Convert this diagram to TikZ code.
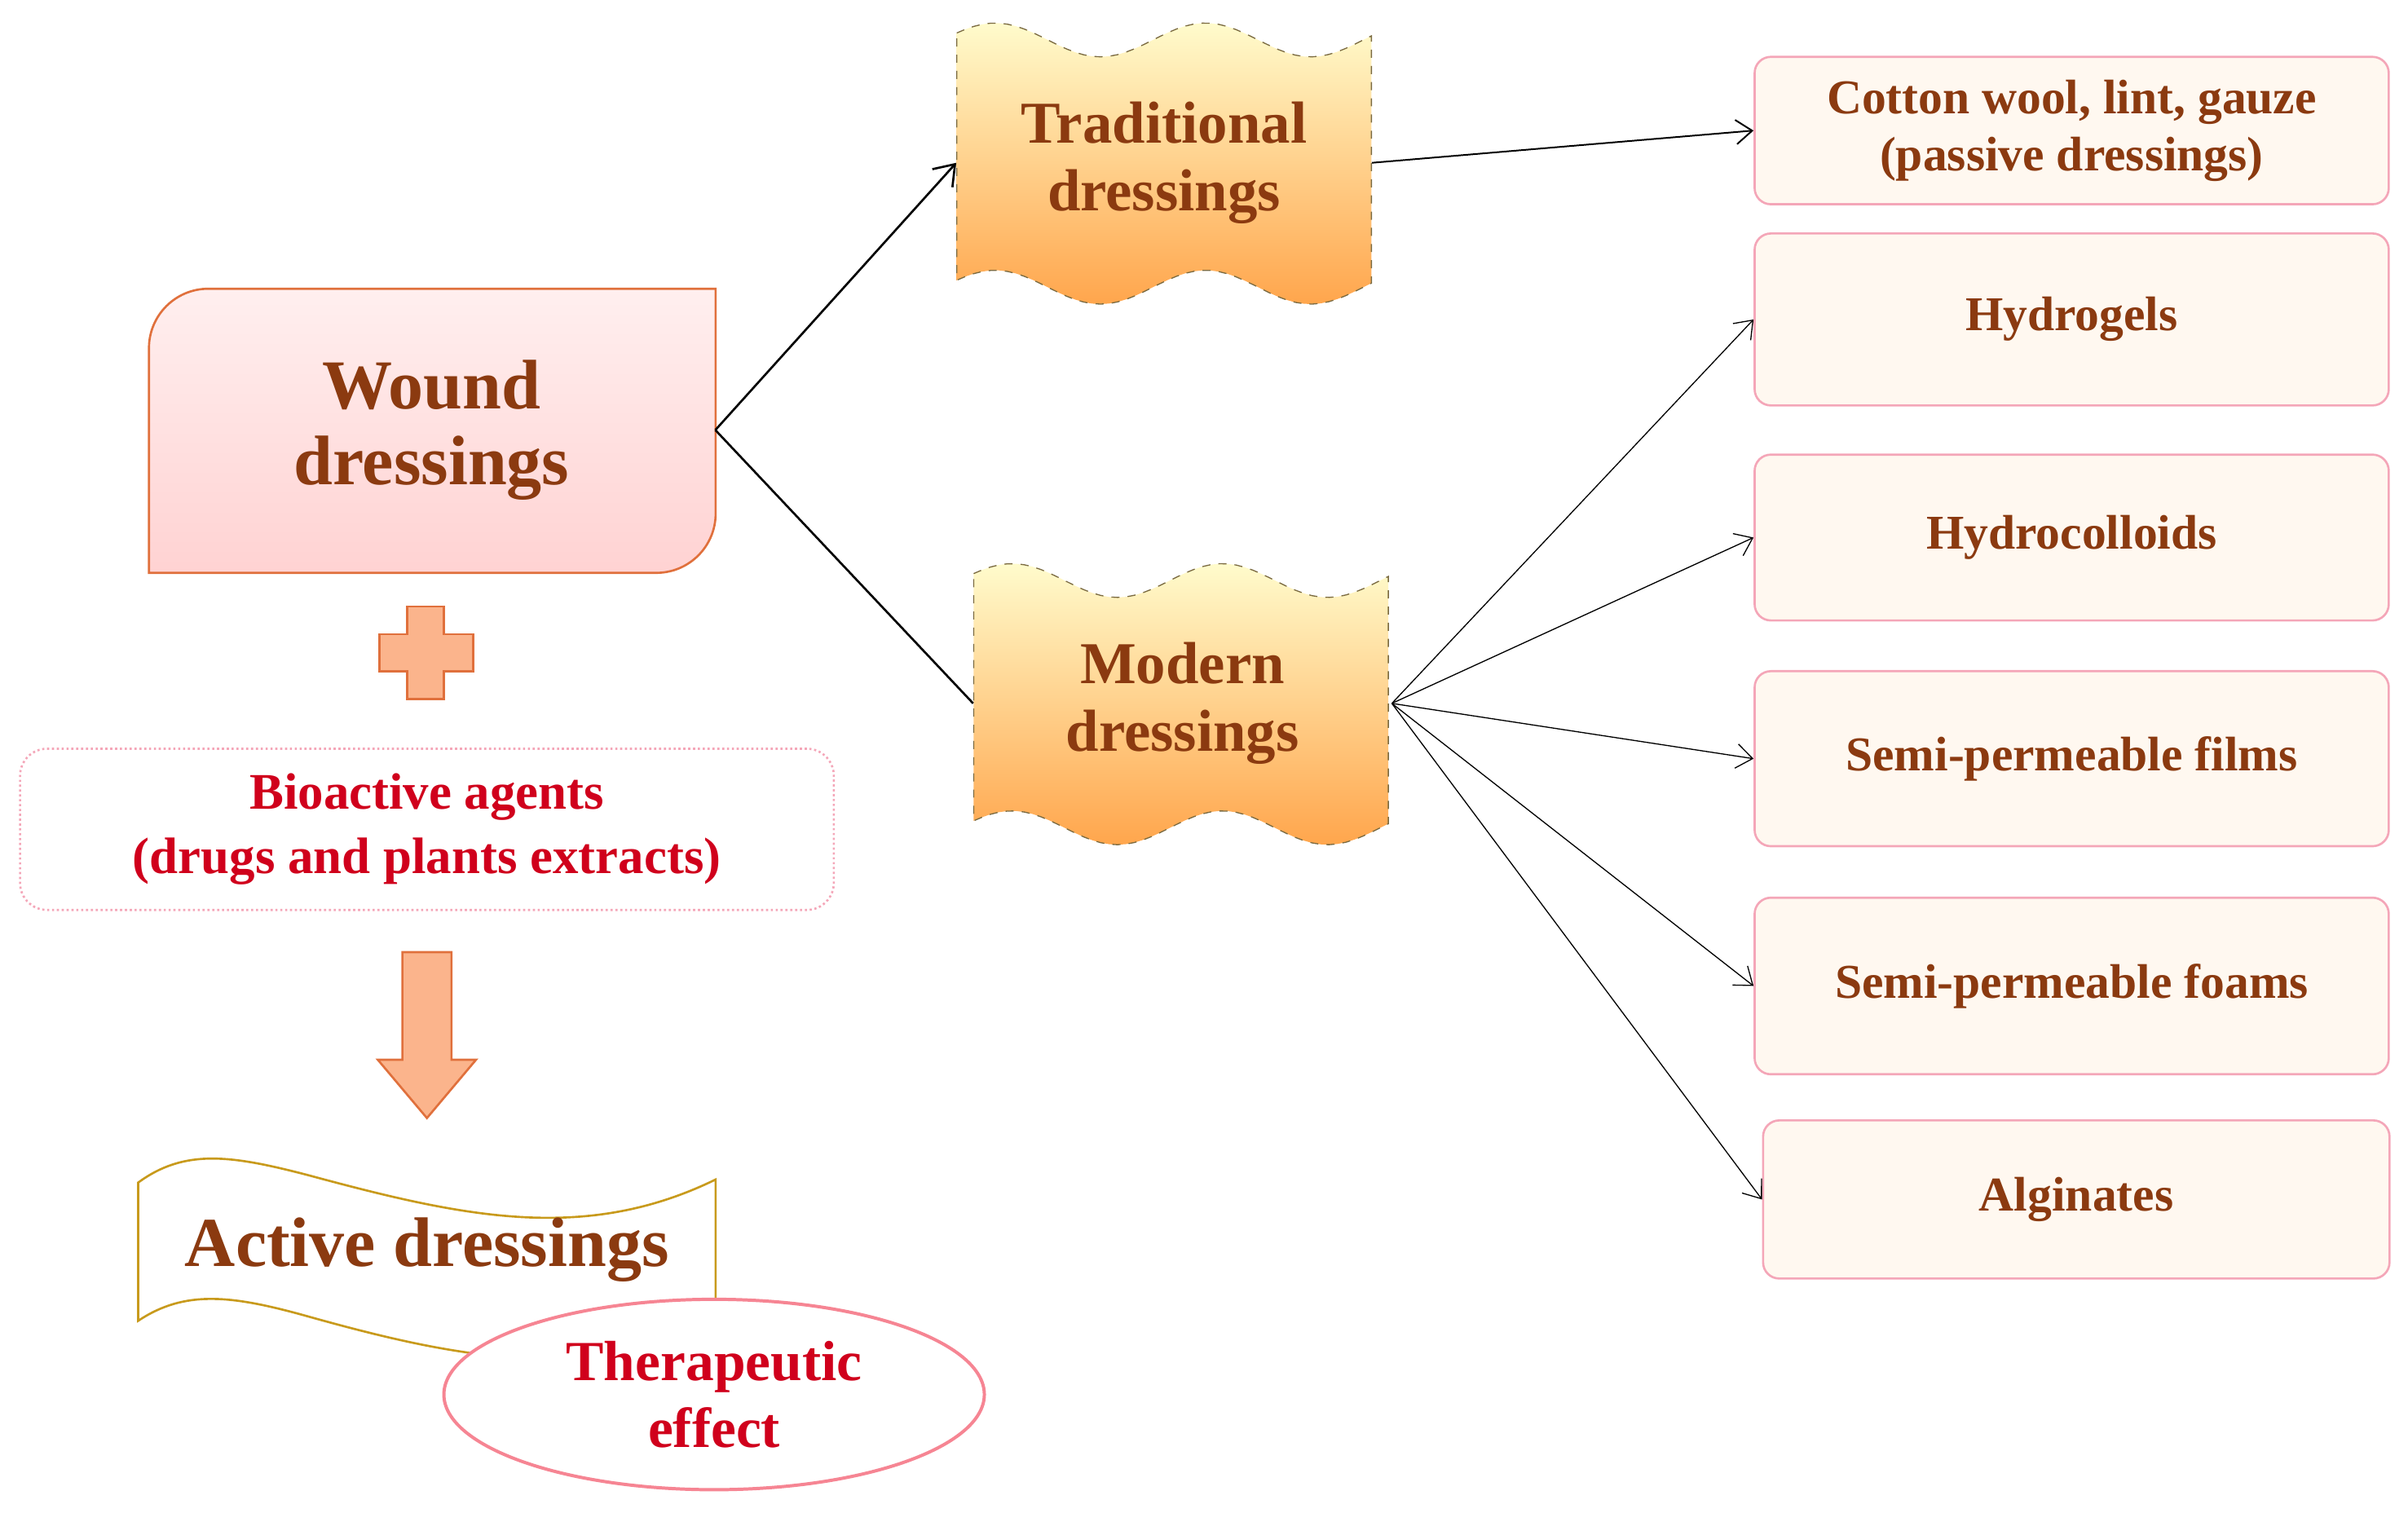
\documentclass[tikz,border=0pt]{standalone}
\usepackage{fontspec}
\setmainfont{Liberation Serif}
\usetikzlibrary{arrows.meta, positioning, shapes.geometric}

\definecolor{txtbrown}{HTML}{8B3A10}
\definecolor{txtred}{HTML}{D0001C}
\definecolor{woundline}{HTML}{E0703C}
\definecolor{boxline}{HTML}{F4A6B8}
\definecolor{boxfill}{HTML}{FFF8F0}
\definecolor{waveline}{HTML}{7A6A40}
\definecolor{goldline}{HTML}{C89A1C}
\definecolor{plusfill}{HTML}{FBB48C}

\newcommand{\wavepath}{plot[domain=0:270,samples=50] (\x,{-26+11*cos(2.628*(\x-25))}) -- plot[domain=270:0,samples=50] (\x,{-187+11*cos(2.628*(\x-25))}) -- cycle}

\begin{document}
\begin{tikzpicture}[x=0.02cm, y=0.02cm,
    every node/.style={align=center, font=\bfseries},
    kind/.style={rectangle, draw=boxline, thick, fill=boxfill, rounded corners=6pt, minimum width=8.26cm, text=txtbrown, font=\fontsize{18}{21}\selectfont\bfseries},
    arrow/.style={-{Straight Barb[length=6pt,width=9pt]}, thin},
    mainarrow/.style={-{Straight Barb[length=7pt,width=10pt]}, thick}
    ]
\useasboundingbox (0,0) rectangle (1568,-985);

% Wound dressings
\shade[top color=pink!25, middle color=pink!30, bottom color=pink!70]
    (97,-373) [rounded corners=22pt] -- (97,-188) [sharp corners] -- (466,-188) [rounded corners=22pt] -- (466,-373) [sharp corners] -- cycle;
\draw[woundline, thick]
    (97,-373) [rounded corners=22pt] -- (97,-188) [sharp corners] -- (466,-188) [rounded corners=22pt] -- (466,-373) [sharp corners] -- cycle;
\node (wound) [minimum width=7.38cm, minimum height=3.7cm, text=txtbrown, font=\fontsize{26}{28}\selectfont\bfseries] at (281,-280) {Wound\\dressings};

% plus
\draw[woundline, fill=plusfill, thick] (265,-395) -- (289,-395) -- (289,-413) -- (308,-413) -- (308,-437) -- (289,-437) -- (289,-455) -- (265,-455) -- (265,-437) -- (247,-437) -- (247,-413) -- (265,-413) -- cycle;

% Bioactive agents
\node (bio) [draw=boxline, densely dotted, thick, rounded corners=10pt, minimum width=10.6cm, minimum height=2.1cm, text=txtred, font=\fontsize{19}{24}\selectfont\bfseries] at (278,-540) {Bioactive agents\\(drugs and plants extracts)};

% down arrow
\draw[woundline, fill=plusfill, thick] (262,-620) -- (294,-620) -- (294,-690) -- (310,-690) -- (278,-728) -- (246,-690) -- (262,-690) -- cycle;

% Active dressings
\draw[goldline, thick, fill=white] (90,-770) .. controls (120,-748) and (150,-752) .. (200,-765) .. controls (300,-792) and (380,-810) .. (466,-768) -- (466,-860) .. controls (380,-900) and (300,-885) .. (200,-857) .. controls (150,-843) and (120,-840) .. (90,-860) -- cycle;
\node (active) [text=txtbrown, font=\fontsize{26}{28}\selectfont\bfseries] at (278,-814) {Active dressings};
\node (thera) [ellipse, draw=boxline!80!red, very thick, fill=white, minimum width=7.04cm, minimum height=2.48cm, text=txtred, font=\fontsize{21}{25}\selectfont\bfseries] at (465,-908) {Therapeutic\\effect};

% Traditional and modern
\begin{scope}[shift={(623,0)}]
\path[draw=waveline, dashed, top color=orange!15!yellow!20, middle color=orange!25!yellow!25, bottom color=orange!70] \wavepath;
\end{scope}
\begin{scope}[shift={(634,-352)}]
\path[draw=waveline, dashed, top color=orange!15!yellow!20, middle color=orange!25!yellow!25, bottom color=orange!70] \wavepath;
\end{scope}
\node (trad) [minimum width=5.4cm, minimum height=3.3cm, text=txtbrown, font=\fontsize{22}{25}\selectfont\bfseries] at (758,-106) {Traditional\\dressings};
\node (modern) [minimum width=5.44cm, minimum height=3.3cm, text=txtbrown, font=\fontsize{22}{25}\selectfont\bfseries] at (770,-458) {Modern\\dressings};

% right column
\node (cotton) [kind, minimum height=1.92cm] at (1349,-85) {Cotton wool, lint, gauze\\(passive dressings)};
\node (hydrogel) [kind, minimum height=2.24cm] at (1349,-208) {Hydrogels};
\node (colloid) [kind, minimum height=2.16cm] at (1349,-350) {Hydrocolloids};
\node (films) [kind, minimum height=2.28cm] at (1349,-494) {Semi-permeable films};
\node (foams) [kind, minimum height=2.3cm] at (1349,-642) {Semi-permeable foams};
\node (algin) [kind, minimum width=8.16cm, minimum height=2.06cm] at (1352,-781) {Alginates};

% Arrows
\draw[mainarrow] (wound.east) -- (trad.west);
\draw[thick] (wound.east) -- (modern.west);
\draw[arrow, semithick] (trad.east) -- (cotton.west);
\draw[arrow] (modern.east) -- (hydrogel.west);
\draw[arrow] (modern.east) -- (colloid.west);
\draw[arrow] (modern.east) -- (films.west);
\draw[arrow] (modern.east) -- (foams.west);
\draw[arrow] (modern.east) -- (algin.west);

\end{tikzpicture}
\end{document}
